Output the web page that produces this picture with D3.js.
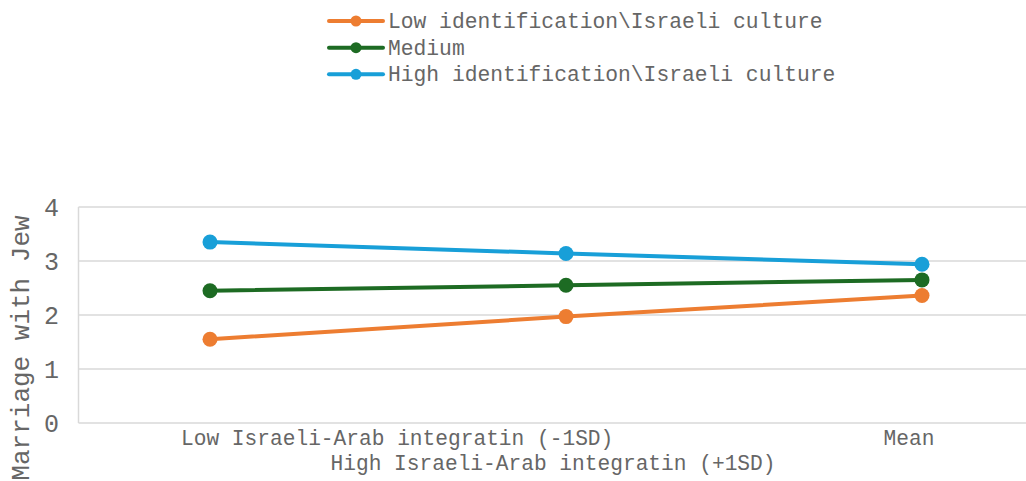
<!DOCTYPE html>
<html><head><meta charset="utf-8">
<script src="https://cdn.jsdelivr.net/npm/d3@7"></script>
<style>
html,body{margin:0;padding:0;background:#fff;}
text{font-family:"Liberation Mono","Courier New",monospace;fill:#666666;}
</style></head>
<body>
<svg id="c" width="1026" height="481"></svg>
<script>
const categories = ["Low Israeli-Arab integratin (-1SD)", "High Israeli-Arab integratin (+1SD)", "Mean"];
const seriesNames = ["Low identification\\Israeli culture", "Medium", "High identification\\Israeli culture"];
const lowValues = [1.55, 1.97, 2.36];
const mediumValues = [2.45, 2.55, 2.65];
const highValues = [3.35, 3.14, 2.94];
const seriesColors = ["#ED7D31", "#1D6B23", "#189FD8"];
const yTicks = [0, 1, 2, 3, 4];
const yTitle = "Marriage with Jew";

const series = [lowValues, mediumValues, highValues];
const svg = d3.select("#c");
const plot = {left: 78.5, right: 1026, top: 207, bottom: 423};

const x = d3.scalePoint().domain(categories).range([210, 922]);
const y = d3.scaleLinear().domain([0, 4]).range([plot.bottom, plot.top]);

// gridlines
svg.append("g").selectAll("line").data(yTicks).join("line")
  .attr("x1", plot.left).attr("x2", plot.right)
  .attr("y1", d => y(d)).attr("y2", d => y(d))
  .attr("stroke", "#d9d9d9").attr("stroke-width", 1.5);
// left axis line
svg.append("line").attr("x1", plot.left).attr("x2", plot.left)
  .attr("y1", plot.top).attr("y2", plot.bottom)
  .attr("stroke", "#d9d9d9").attr("stroke-width", 1.5);

// y tick labels
svg.append("g").selectAll("text").data(yTicks).join("text")
  .attr("x", 59).attr("y", d => y(d)).attr("dy", "0.36em")
  .attr("text-anchor", "end").attr("font-size", 25)
  .text(d => d);

// y title
svg.append("text").attr("transform", `translate(29,348) rotate(-90)`)
  .attr("text-anchor", "middle").attr("font-size", 26).text(yTitle);

// x labels (staggered)
const xl = svg.append("g").attr("font-size", 21.2);
categories.forEach((c, i) => {
  const t = xl.append("text").text(c);
  if (i === 0) {
    t.attr("x", x(c) - 29).attr("y", 445).attr("text-anchor", "start");
  } else {
    t.attr("x", x(c) - 13).attr("y", i % 2 === 1 ? 470 : 445).attr("text-anchor", "middle");
  }
});

// lines
const line = d3.line().x((d, i) => x(categories[i])).y(d => y(d));
series.forEach((vals, si) => {
  const g = svg.append("g");
  g.append("path").datum(vals).attr("d", line)
    .attr("fill", "none").attr("stroke", seriesColors[si])
    .attr("stroke-width", 4).attr("stroke-linecap", "round");
  g.selectAll("circle").data(vals).join("circle")
    .attr("cx", (d, i) => x(categories[i])).attr("cy", d => y(d))
    .attr("r", 7.5).attr("fill", seriesColors[si]);
});

// legend
const lg = svg.append("g");
const legendRows = [21, 47.7, 74.3];
seriesNames.forEach((n, i) => {
  const ly = legendRows[i];
  lg.append("line").attr("x1", 329).attr("x2", 383).attr("y1", ly).attr("y2", ly)
    .attr("stroke", seriesColors[i]).attr("stroke-width", 4).attr("stroke-linecap", "round");
  lg.append("circle").attr("cx", 356).attr("cy", ly).attr("r", 5.5).attr("fill", seriesColors[i]);
  lg.append("text").attr("x", 388).attr("y", ly).attr("dy", "0.32em")
    .attr("font-size", 21.3).text(n);
});
</script>
</body></html>
